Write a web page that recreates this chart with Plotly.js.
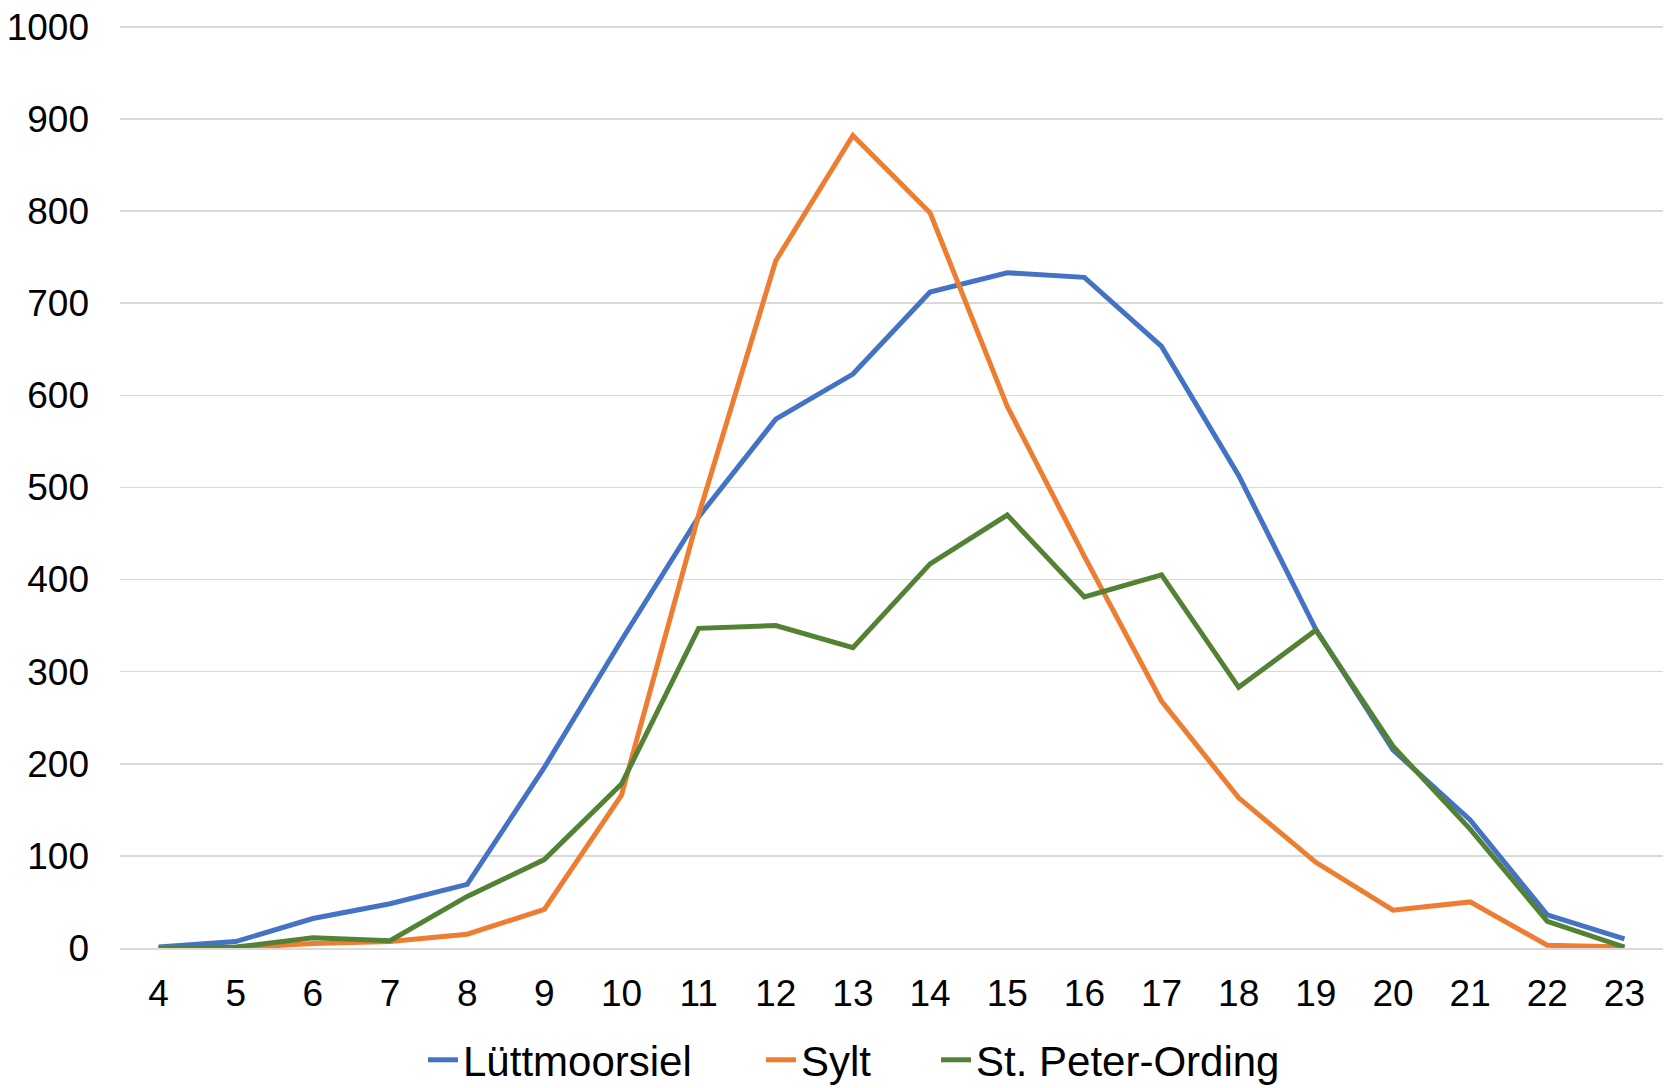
<!DOCTYPE html>
<html>
<head>
<meta charset="utf-8">
<script src="https://cdn.plot.ly/plotly-3.0.1.min.js"></script>
<style>html,body{margin:0;padding:0;background:#fff;}#chart{width:1664px;height:1088px;}</style>
</head>
<body>
<div id="chart"></div>
<script>
const hours = [4,5,6,7,8,9,10,11,12,13,14,15,16,17,18,19,20,21,22,23];
const luettmoorsiel = [1,7,32,48,69,196,334,468,574,623,712,733,728,653,513,346,215,139,36,10];
const sylt = [0,0,5,7,15,42,166,470,746,882,798,588,425,268,163,93,41,50,3,1];
const stPeterOrding = [0,1,11,8,56,96,178,347,350,326,417,470,381,405,283,345,219,129,29,1];
const seriesNames = ["Lüttmoorsiel","Sylt","St. Peter-Ording"];
const yTicks = [0,100,200,300,400,500,600,700,800,900,1000];

const colors = ["#4472C4","#ED7D31","#548235"];
const legendIds = ['legend','legend2','legend3'];
const data = [luettmoorsiel, sylt, stPeterOrding].map((vals,i)=>({
  x: hours, y: vals, name: seriesNames[i], type: 'scatter', mode: 'lines',
  line: {color: colors[i], width: 5}, legend: legendIds[i]
}));

// plot area: left 120, width 1543; bottom 948, height 924 (0..1003)
const plotL = 120, plotW = 1543, plotB = 948, plotH = 924;
const px2x = p => (p - plotL) / plotW;
const legY = -(1060 - plotB) / plotH;
const legBase = {orientation: 'h', xanchor: 'left', y: legY, yanchor: 'middle',
  font: {size: 42}, itemwidth: 30, bgcolor: 'rgba(0,0,0,0)'};
const legTextStarts = [463, 801, 976];

const layout = {
  width: 1664, height: 1088,
  margin: {l: plotL, r: 1664 - plotL - plotW, t: plotB - plotH, b: 1088 - plotB, autoexpand: false},
  paper_bgcolor: '#fff', plot_bgcolor: '#fff',
  font: {family: 'Liberation Sans, Arial, sans-serif', color: '#000'},
  xaxis: {
    range: [3.5, 23.5], tickvals: hours, ticktext: hours.map(String),
    showgrid: false, zeroline: false, showline: true, linecolor: '#D9D9D9', linewidth: 1.5,
    ticks: '', tickfont: {size: 37}, ticklabelstandoff: 12
  },
  yaxis: {
    range: [0, 1003], tickvals: yTicks, ticktext: yTicks.map(String),
    showgrid: true, gridcolor: '#D9D9D9', gridwidth: 1.5, zeroline: false,
    ticks: '', tickfont: {size: 37}, ticklabelstandoff: 30
  },
  legend: Object.assign({}, legBase, {x: px2x(legTextStarts[0] - 40)}),
  legend2: Object.assign({}, legBase, {x: px2x(legTextStarts[1] - 40)}),
  legend3: Object.assign({}, legBase, {x: px2x(legTextStarts[2] - 40)}),
  showlegend: true
};
Plotly.newPlot('chart', data, layout, {displayModeBar: false, staticPlot: true});
</script>
</body>
</html>
